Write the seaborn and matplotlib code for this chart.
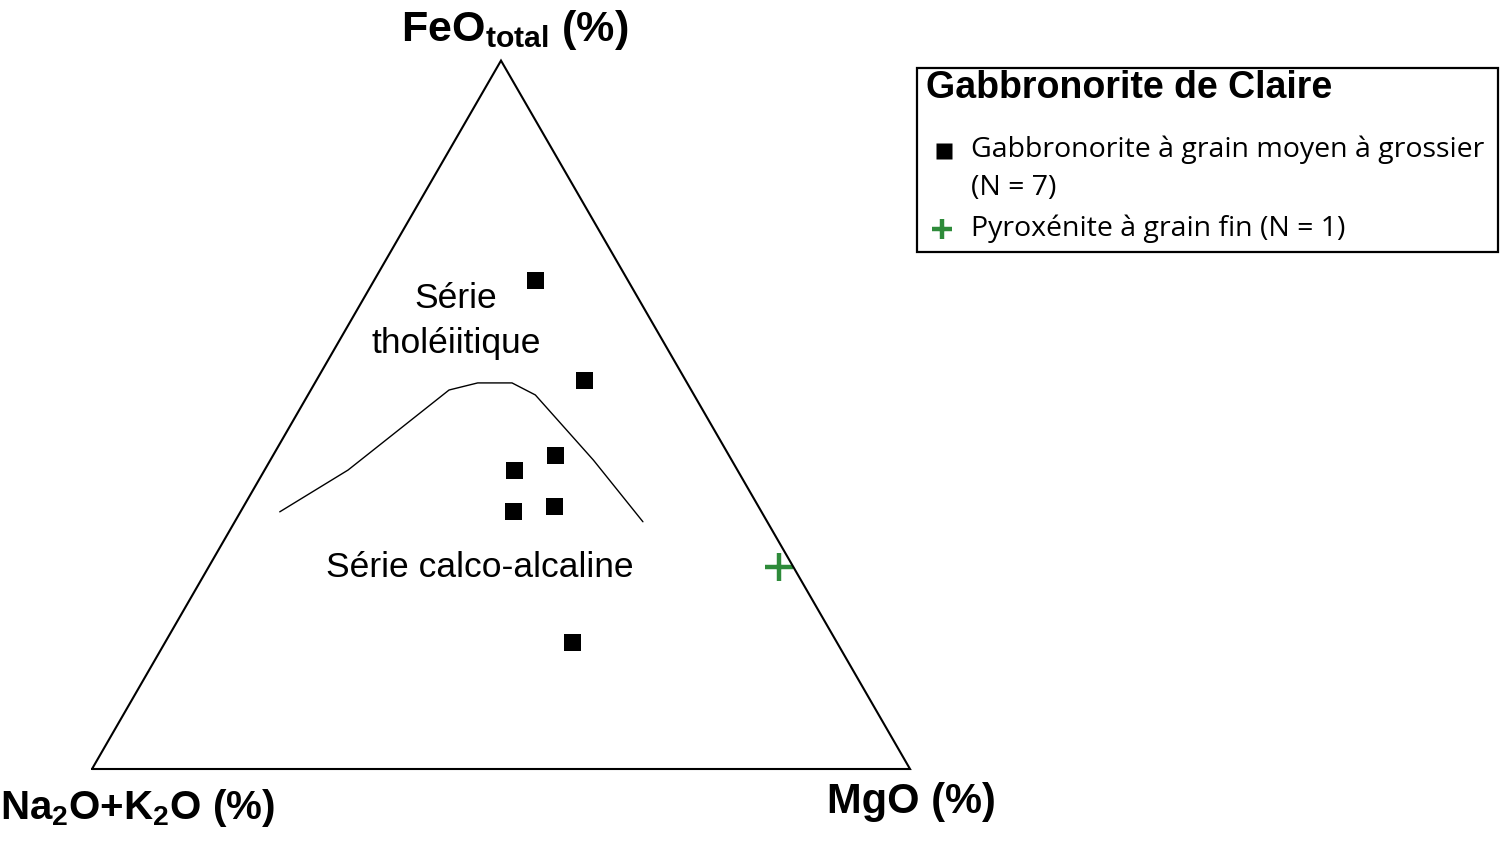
import matplotlib
matplotlib.use("Agg")
import matplotlib.pyplot as plt
import matplotlib.patches as mpatches
import seaborn as sns
import numpy as np

# ternary data, percent (A = Na2O+K2O, F = FeOtotal, M = MgO)
gabbro_A = [11.3, 12.4, 21.2, 27.3, 30.3, 24.9, 32.3]
gabbro_F = [69.0, 54.9, 44.2, 42.2, 36.3, 37.0, 17.8]
gabbro_M = [19.7, 32.7, 34.6, 30.5, 33.4, 38.1, 49.9]

pyrox_A = [1.8]
pyrox_F = [28.5]
pyrox_M = [69.7]

# tholeiitic / calc-alkaline divide
boundary_A = [58.9, 47.6, 29.6, 25.6, 21.4, 19.4, 16.9, 15.2]
boundary_F = [36.3, 42.2, 53.5, 54.5, 54.5, 52.8, 43.6, 34.9]
boundary_M = [4.8, 10.2, 16.9, 19.9, 24.1, 27.8, 39.5, 49.9]

legend_title = "Gabbronorite de Claire"
legend_labels = ["Gabbronorite à grain moyen à grossier", "(N = 7)", "Pyroxénite à grain fin (N = 1)"]

H = np.sqrt(3) / 2


def to_xy(a, f, m):
    a, f, m = np.asarray(a, float), np.asarray(f, float), np.asarray(m, float)
    s = a + f + m
    f, m = f / s, m / s
    return m + 0.5 * f, H * f


sns.set_style("white")
plt.rcParams["font.family"] = ["Liberation Sans", "DejaVu Sans"]
plt.rcParams["text.color"] = "black"
plt.rcParams["mathtext.fontset"] = "custom"
plt.rcParams["mathtext.rm"] = "Liberation Sans:bold"
plt.rcParams["mathtext.bf"] = "Liberation Sans:bold"

fig = plt.figure(figsize=(15, 8.52), dpi=100)
ax = fig.add_axes([0, 0, 1, 1])
ax.set_xlim(-92 / 818, 1408 / 818)
ax.set_ylim(-83 / 818, 769 / 818)
ax.axis("off")

# triangle outline
tx, ty = to_xy([100, 0, 0, 100], [0, 0, 100, 0], [0, 100, 0, 0])
ax.plot(tx, ty, color="black", lw=1.5, solid_joinstyle="miter")

# boundary curve
bx, by = to_xy(boundary_A, boundary_F, boundary_M)
sns.lineplot(x=bx, y=by, sort=False, color="black", lw=1.0, ax=ax)

gx, gy = to_xy(gabbro_A, gabbro_F, gabbro_M)
sns.scatterplot(x=gx, y=gy, marker="s", s=150, color="black", edgecolor="none", ax=ax)

px, py = to_xy(pyrox_A, pyrox_F, pyrox_M)
sns.scatterplot(x=px, y=py, marker="+", s=400, color="#2e8b3a", linewidth=3.2, ax=ax)

# field names
lx, ly = to_xy([23.9], [63.2], [12.9])
ax.text(lx[0], ly[0], "Série\ntholéiitique", ha="center", va="center", fontsize=25.5,
        linespacing=1.45)
lx, ly = to_xy([38.4], [28.4], [33.2])
ax.text(lx[0], ly[0], "Série calco-alcaline", ha="center", va="center", fontsize=25.5)

# apex labels
lab_kw = dict(fontweight="bold")
fig.text(515 / 1500, 1 - 30 / 852, r"FeO$_{\mathbf{total}}$ (%)", ha="center", va="center",
         fontsize=31, **lab_kw)
fig.text(0 / 1500, 1 - 808 / 852, r"Na$_{\mathbf{2}}$O+K$_{\mathbf{2}}$O (%)", ha="left", va="center",
         fontsize=29, **lab_kw)
fig.text(911 / 1500, 1 - 802 / 852, "MgO (%)", ha="center", va="center", fontsize=30, **lab_kw)

# legend box drawn by hand
fig.patches.append(mpatches.Rectangle((917 / 1500, 1 - 252 / 852), 581 / 1500, 184 / 852,
                                      transform=fig.transFigure, fill=False, ec="black", lw=1.6))
fig.text(926 / 1500, 1 - 88 / 852, legend_title, ha="left", va="center", fontsize=27, fontweight="bold")
leg_font = dict(fontsize=20.5, family=["Open Sans", "DejaVu Sans"], ha="left", va="center")
fig.text(971 / 1500, 1 - 150 / 852, legend_labels[0], **leg_font)
fig.text(971 / 1500, 1 - 188 / 852, legend_labels[1], **leg_font)
fig.text(971 / 1500, 1 - 229 / 852, legend_labels[2], **leg_font)
fig.lines.append(plt.Line2D([944 / 1500], [1 - 151 / 852], transform=fig.transFigure,
                            marker="s", ms=12, color="black", mec="none", ls="none"))
fig.lines.append(plt.Line2D([942 / 1500], [1 - 229 / 852], transform=fig.transFigure,
                            marker="+", ms=15, mew=3.2, color="#2e8b3a", ls="none"))

fig.savefig("out.png", dpi=100, facecolor="white")
